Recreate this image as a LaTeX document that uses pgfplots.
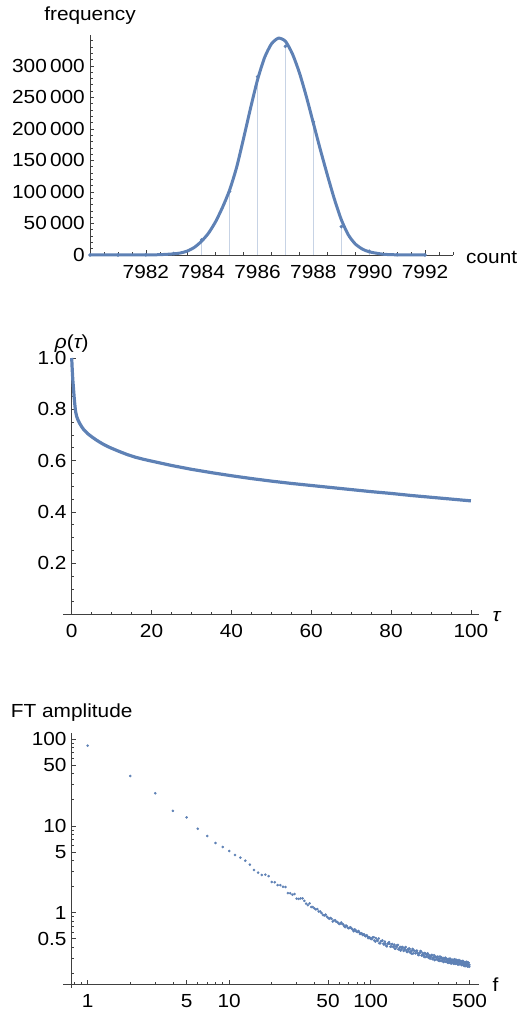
\documentclass[border=0pt]{standalone}
\usepackage{fontspec}
\setmainfont{Liberation Sans}[FakeStretch=1.1]
\usepackage{pgfplots}
\pgfplotsset{compat=1.18}

\definecolor{mblue}{rgb}{0.368417,0.506779,0.709798}
\definecolor{axgray}{gray}{0.25}

\pgfplotsset{
  mma/.style={
    scale only axis, anchor=south west,
    axis lines*=left, enlargelimits=false, clip=false,
    scaled ticks=false,
    axis line style={axgray, line width=0.75bp},
    tick style={axgray, line width=0.6bp},
    tick align=inside,
    major tick length=4.5bp, minor tick length=2.6bp,
    tick label style={font=\fontsize{19}{22}\selectfont, text=black, inner sep=0pt},
    xticklabel style={yshift=-10bp},
    yticklabel style={xshift=-5bp},
    every axis x label/.style={at={(axis description cs:1,0)}, anchor=base west,
      font=\fontsize{19}{22}\selectfont, inner sep=0pt, xshift=13bp, yshift=-7.5bp},
    every axis y label/.style={at={(axis description cs:0,1)}, anchor=base,
      font=\fontsize{19}{22}\selectfont, inner sep=0pt, yshift=14bp},
  }
}

\begin{document}
\begin{tikzpicture}
\path[use as bounding box] (0,0) rectangle (521bp,1012bp);

% --- histogram of counts with fitted curve
\begin{axis}[mma, at={(90bp,757bp)}, width=363bp, height=220bp,
  xmin=7980, xmax=7993, ymin=0, ymax=349000,
  xtick={7982,7984,7986,7988,7990,7992},
  xticklabels={7982,7984,7986,7988,7990,7992},
  minor xtick={7980,7980.5,...,7993},
  ytick={0,50000,100000,150000,200000,250000,300000},
  yticklabels={0,50\,000,100\,000,150\,000,200\,000,250\,000,300\,000},
  minor ytick={0,10000,...,340000},
  xlabel={count}, ylabel={frequency},
  every axis x label/.append style={yshift=-0.8bp}]
\addplot[ycomb, mblue!35, line width=0.7bp] coordinates {
  (7980,0) (7981,0) (7982,300) (7983,2500) (7984,24000) (7985,101000)
  (7986,283000) (7987,331000) (7988,211000) (7989,45000) (7990,6000)
  (7991,500) (7992,0)};
\addplot[mblue, line width=3bp, smooth, tension=0.4] coordinates {
  (7980,0) (7981,0) (7981.5,20) (7982,100) (7982.5,500) (7983,1800)
  (7983.25,3300) (7983.5,6500) (7983.75,12500) (7984,22000) (7984.25,35000)
  (7984.5,53000) (7984.75,76000) (7985,103000) (7985.25,139000)
  (7985.5,185000) (7985.75,233000) (7986,278000) (7986.25,313000)
  (7986.5,335000) (7986.75,344000) (7987,339000) (7987.25,319000)
  (7987.5,289000) (7987.75,251000) (7988,209000) (7988.25,167000)
  (7988.5,127000) (7988.75,89000) (7989,56000) (7989.25,32000)
  (7989.5,17500) (7989.75,9500) (7990,5000) (7990.5,1200) (7991,250)
  (7991.5,40) (7992,0)};
\addplot[only marks, mark=*, mark size=1.6bp, mblue] coordinates {
  (7980,0) (7981,0) (7982,300) (7983,2500) (7984,24000) (7985,101000)
  (7986,283000) (7987,331000) (7988,211000) (7989,45000) (7990,6000)
  (7991,500) (7992,0)};
\end{axis}

% --- autocorrelation
\begin{axis}[mma, at={(71.7bp,397.5bp)}, width=407.6bp, height=256.5bp,
  xmin=0, xmax=102.1, ymin=0, ymax=1,
  xtick={0,20,40,60,80,100}, xticklabels={0,20,40,60,80,100},
  minor xtick={0,5,...,100},
  ytick={0.2,0.4,0.6,0.8,1}, yticklabels={0.2,0.4,0.6,0.8,1.0},
  minor ytick={0.05,0.1,...,1},
  xlabel={\itshape τ}, ylabel={{\itshape ρ}({\itshape τ})},
  every axis y label/.append style={yshift=-4.2bp}]
\draw[axgray, line width=0.75bp] (axis cs:0,0) -- (axis cs:-2.1,0);
\addplot[mblue, line width=3.2bp] coordinates {
  (0,1.0) (0.1,0.965) (0.2,0.935) (0.3,0.91) (0.4,0.89) (0.5,0.87)
  (0.6,0.85) (0.7,0.832) (0.8,0.816) (0.9,0.801) (1,0.789) (1.25,0.772)
  (1.5,0.761) (2,0.745) (2.5,0.732) (3,0.721) (4,0.705) (5,0.693)
  (6,0.682) (7,0.672) (8,0.663) (9,0.655) (10,0.648) (12,0.635)
  (14,0.623) (16,0.613) (18,0.605) (20,0.598) (25,0.581) (30,0.566)
  (35,0.553) (40,0.541) (45,0.530) (50,0.520) (55,0.511) (60,0.503)
  (65,0.495) (70,0.487) (75,0.479) (80,0.472) (85,0.464) (90,0.457)
  (95,0.450) (100,0.443)};
\end{axis}

% --- Fourier amplitude, log-log
\begin{axis}[mma, xmode=log, ymode=log,
  at={(71.7bp,27.7bp)}, width=407.6bp, height=251bp,
  xmin=0.771, xmax=586, ymin=0.1496, ymax=116.3,
  xtick={1,5,10,50,100,500}, xticklabels={1,5,10,50,100,500},
  minor xtick={0.8,0.9,2,3,4,6,7,8,9,20,30,40,60,70,80,90,200,300,400},
  ytick={0.5,1,5,10,50,100}, yticklabels={0.5,1,5,10,50,100},
  minor ytick={0.2,0.3,0.4,0.6,0.7,0.8,0.9,2,3,4,6,7,8,9,20,30,40,60,70,80,90},
  xlabel={f}, ylabel={FT amplitude},
  every axis y label/.append style={yshift=1.6bp}]
\draw[axgray, line width=0.75bp] (axis cs:0.771,0.1496) -- (axis cs:0.673,0.1496);
\draw[axgray, line width=0.75bp] (axis cs:0.771,0.1496) -- (axis cs:0.771,0.1345);
\addplot[only marks, mark=*, mark size=1.1bp, mblue] coordinates {
  (1,83.8) (2,37.5) (3,23.7) (4,14.9) (5,12.5) (6,9.27) (7,7.64) (8,6.34)
  (9,5.70) (10,5.13) (11,4.61) (12,4.30) (13,3.97) (14,3.57) (15,3.10)
  (16,2.89) (17,2.72) (18,2.74) (19,2.64) (20,2.25) (21,2.24) (22,2.08)
  (23,2.07) (24,1.99) (25,1.97) (26,1.68) (27,1.67) (28,1.61) (29,1.64)
  (30,1.45) (31,1.44) (32,1.46) (33,1.46) (34,1.37) (35,1.27) (36,1.22)
  (37,1.28) (38,1.16) (39,1.16) (40,1.12) (41,1.09) (42,1.10) (43,1.03)
  (44,1.03) (45,0.99) (46,0.94) (47,0.93) (48,0.95) (49,0.90) (50,0.87)
  (51,0.85) (52,0.87) (53,0.85) (54,0.79) (55,0.81) (56,0.82) (57,0.79)
  (58,0.78) (59,0.76) (60,0.74) (61,0.75) (62,0.77) (63,0.74) (64,0.73)
  (65,0.70) (66,0.68) (67,0.71) (68,0.70) (69,0.67) (70,0.66) (71,0.67)
  (72,0.68) (73,0.66) (74,0.648) (75,0.63) (76,0.61) (77,0.64) (78,0.634)
  (79,0.61) (80,0.604) (81,0.60) (82,0.615) (83,0.595) (84,0.567)
  (85,0.575) (86,0.579) (87,0.57) (88,0.551) (89,0.56) (90,0.561)
  (91,0.545) (92,0.536) (93,0.54) (94,0.549) (95,0.53) (96,0.509)
  (97,0.522) (98,0.517) (99,0.512) (100,0.50)
  (102,0.495) (103,0.517) (105,0.521) (106,0.478) (108,0.464) (109,0.509)
  (111,0.485) (112,0.472) (114,0.504) (115,0.445) (117,0.444) (118,0.469)
  (120,0.469) (121,0.480) (123,0.440) (124,0.429) (126,0.465) (127,0.441)
  (129,0.415) (130,0.409) (132,0.436) (133,0.447) (135,0.457) (136,0.438)
  (138,0.405) (139,0.407) (141,0.430) (142,0.436) (144,0.404) (145,0.407)
  (147,0.428) (148,0.387) (150,0.384) (151,0.411) (153,0.404) (154,0.423)
  (156,0.424) (157,0.379) (159,0.377) (160,0.392) (162,0.402) (163,0.366)
  (165,0.379) (166,0.401) (168,0.403) (169,0.394) (171,0.362) (172,0.369)
  (174,0.382) (175,0.396) (177,0.401) (178,0.370) (180,0.357) (181,0.352)
  (183,0.380) (184,0.375) (186,0.360) (187,0.388) (189,0.382) (190,0.348)
  (192,0.344) (193,0.361) (195,0.364) (196,0.337) (198,0.382) (199,0.371)
  (201,0.341) (203,0.365) (205,0.363) (207,0.340) (209,0.342) (211,0.365)
  (213,0.363) (215,0.342) (217,0.326) (219,0.325) (221,0.343) (223,0.346)
  (225,0.362) (227,0.356) (229,0.322) (231,0.321) (233,0.343) (235,0.331)
  (237,0.323) (239,0.309) (241,0.343) (243,0.339) (245,0.308) (247,0.333)
  (249,0.324) (251,0.310) (253,0.340) (255,0.333) (257,0.302) (259,0.311)
  (261,0.321) (263,0.295) (265,0.304) (267,0.316) (269,0.324) (271,0.326)
  (273,0.292) (275,0.293) (277,0.307) (279,0.303) (281,0.324) (283,0.284)
  (285,0.289) (287,0.312) (289,0.308) (291,0.308) (293,0.292) (295,0.288)
  (297,0.311) (299,0.310) (301,0.280) (303,0.291) (305,0.296) (307,0.278)
  (309,0.312) (311,0.298) (313,0.279) (315,0.307) (317,0.299) (319,0.277)
  (321,0.282) (323,0.288) (325,0.301) (327,0.270) (329,0.272) (331,0.296)
  (333,0.287) (335,0.293) (337,0.303) (339,0.274) (341,0.271) (343,0.295)
  (345,0.289) (347,0.277) (349,0.274) (351,0.265) (353,0.293) (355,0.284)
  (357,0.264) (359,0.295) (361,0.280) (363,0.266) (365,0.295) (367,0.276)
  (369,0.265) (371,0.259) (373,0.283) (375,0.286) (377,0.269) (379,0.282)
  (381,0.287) (383,0.265) (385,0.258) (387,0.286) (389,0.275) (391,0.268)
  (393,0.290) (395,0.257) (397,0.259) (399,0.275) (401,0.278) (403,0.286)
  (405,0.264) (407,0.258) (409,0.281) (411,0.268) (413,0.255) (415,0.252)
  (417,0.270) (419,0.278) (421,0.285) (423,0.274) (425,0.255) (427,0.257)
  (429,0.273) (431,0.278) (433,0.259) (435,0.261) (437,0.276) (439,0.250)
  (441,0.249) (443,0.267) (445,0.264) (447,0.277) (449,0.278) (451,0.250)
  (453,0.249) (455,0.259) (457,0.266) (459,0.243) (461,0.252) (463,0.267)
  (465,0.270) (467,0.264) (469,0.243) (471,0.248) (473,0.258) (475,0.268)
  (477,0.272) (479,0.251) (481,0.243) (483,0.240) (485,0.261) (487,0.257)
  (489,0.247) (491,0.266) (493,0.264) (495,0.241) (497,0.238) (499,0.250)};
\end{axis}
\end{tikzpicture}
\end{document}
